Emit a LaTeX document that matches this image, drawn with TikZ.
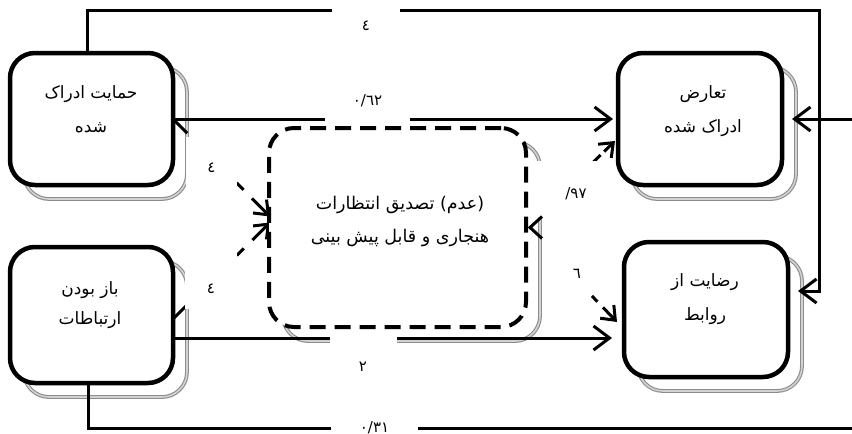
\documentclass[tikz,border=0pt]{standalone}
\usepackage{fontspec}
\usetikzlibrary{arrows.meta,calc}
\newfontfamily\arabicfont[Script=Arabic]{DejaVu Sans}
\TeXXeTstate=1
\newcommand{\rtl}[1]{\beginR #1\endR}
\pgfdeclarelayer{shadowlayer}
\pgfdeclarelayer{linklayer}
\pgfdeclarelayer{labellayer}
\pgfsetlayers{shadowlayer,linklayer,labellayer,main}

\begin{document}
\begin{tikzpicture}[x=1pt,y=-1pt,
  box/.style={draw, line width=4.5pt, rounded corners=25pt, fill=white, inner sep=0pt, outer sep=0pt},
  dashbox/.style={box, line width=4pt, dash pattern=on 16pt off 9pt},
  shade/.style={draw=gray!90, double=gray!35, double distance=1.6pt, line width=1.1pt, rounded corners=25pt},
  boxtext/.style={font=\arabicfont\fontsize{17}{34}\selectfont, align=center, inner sep=0pt},
  conn/.style={line width=3pt},
  bigtip/.style={-{Straight Barb[length=16pt,width=24pt]}},
  smalltip/.style={-{Straight Barb[length=12pt,width=19pt]}},
  lbl/.style={fill=white, inner sep=0pt, anchor=base, align=center, font=\arabicfont\fontsize{15}{17}\selectfont},
]
\useasboundingbox (0,0) rectangle (852,434);

% boxes
\node[box, minimum width=163pt, minimum height=132pt] (tl) at (91.5,119) {};
\node[box, minimum width=164pt, minimum height=132pt] (tr) at (700,119) {};
\node[box, minimum width=163pt, minimum height=136pt] (bl) at (91.5,315) {};
\node[box, minimum width=164pt, minimum height=135pt] (br) at (706,309.5) {};
\node[dashbox, minimum width=257pt, minimum height=199pt] (ctr) at (397.5,227.5) {};

% box captions
\node[boxtext] (tlt) at (91,109.5) {\rtl{حمایت ادراک}\\\rtl{شده}};
\node[boxtext] (trt) at (703,111.5) {\rtl{تعارض}\\\rtl{ادراک شده}};
\node[boxtext, font=\arabicfont\fontsize{17}{30}\selectfont] (blt) at (90,305) {\rtl{باز بودن}\\\rtl{ارتباطات}};
\node[boxtext] (brt) at (705,299.5) {\rtl{رضایت از}\\\rtl{روابط}};
\node[boxtext, font=\arabicfont\fontsize{17.5}{33}\selectfont] (ctrt) at (400,221.5) {\rtl{(عدم) تصدیق انتظارات}\\\rtl{هنجاری و قابل پیش بینی}};

% free ends of the outer connectors
\coordinate (topR) at (819,10);
\coordinate (rin) at (852,119);
\coordinate (botR) at (852,428);

% drop shadows
\begin{pgfonlayer}{shadowlayer}
  \foreach \b in {tl,tr,bl,br,ctr}
    \draw[shade] ($(\b.south west)+(14,14)$) rectangle ($(\b.north east)+(14,14)$);
\end{pgfonlayer}

% connectors
\begin{pgfonlayer}{linklayer}
  \draw[conn, bigtip] ($(tl.north)+(-4.5,0)$) |- (topR) |- ($(br.east)+(10,-18.5)$);
  \draw[conn, bigtip] (tl.east) -- ($(tr.west)+(-5,0)$);
  \draw[conn, bigtip] (rin) -- ($(tr.east)+(10,0)$);
  \draw[conn] ($(bl.south)+(-3.5,0)$) |- (botR);
  \draw[conn, bigtip] ($(bl.east)+(0,23)$) -- ($(br.west)+(-12,28.5)$);
  \draw[conn, smalltip, dash pattern=on 20pt off 70pt on 10pt off 12pt on 60pt]
    (tl.east) -- ($(ctr.west)+(1,-11)$);
  \draw[conn, smalltip, dash pattern=on 20pt off 70pt on 10pt off 12pt on 60pt]
    ($(bl.east)+(0,4)$) -- ($(ctr.west)+(1,-5)$);
  \draw[conn, smalltip, dash pattern=on 0pt off 92pt on 12pt off 5pt on 60pt]
    (ctr.east) -- ($(tr.south west)+(-3,-44)$);
  \draw[conn, smalltip, dash pattern=on 0pt off 95pt on 8pt off 8pt on 60pt]
    (ctr.east) -- ($(br.west)+(-7,12.5)$);
\end{pgfonlayer}

% coefficient labels
\begin{pgfonlayer}{labellayer}
  \node[lbl, text width=68pt, text height=29.5pt, text depth=16.5pt] (l4top) at (366,30.5) {٤};
  \node[lbl, text width=85pt, text height=24.5pt, text depth=19.5pt] (l062) at (367.5,105.5) {٠/٦٢};
  \node[lbl, text width=51pt, text height=35.5pt, text depth=14.5pt] (l4a) at (211.5,172.5) {٤};
  \node[lbl, text width=52pt, text height=40.5pt, text depth=15.5pt] (l4b) at (211,293.5) {٤};
  \node[lbl, text width=67pt, text height=37.5pt, text depth=27.5pt] (l2) at (363,371.5) {٢};
  \node[lbl, text width=94pt, text height=37.5pt, text depth=19.5pt] (l97) at (576,198.5) {٩٧/};
  \node[lbl, text width=54pt, text height=27.5pt, text depth=12.5pt] (l6) at (577,278.5) {٦};
  \node[lbl, text width=87pt, text height=20pt, text depth=2pt] (l031) at (374.5,432) {٠/٣١};
\end{pgfonlayer}

% arrow head on the right side of the central box
\draw[conn] ($(ctr.east)+(16,-11)$) -- ($(ctr.east)+(4,0)$) -- ($(ctr.east)+(16,11)$);
\end{tikzpicture}
\end{document}
